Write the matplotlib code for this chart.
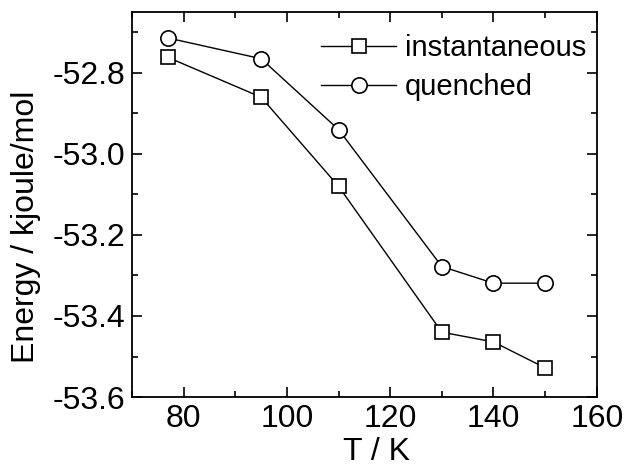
import matplotlib
matplotlib.use("Agg")
import matplotlib.pyplot as plt
from matplotlib.ticker import MultipleLocator

T = [77, 95, 110, 130, 140, 150]
instantaneous = [-52.762, -52.860, -53.080, -53.440, -53.464, -53.528]
quenched = [-52.714, -52.765, -52.940, -53.278, -53.319, -53.319]

plt.rcParams['font.family'] = ['Liberation Sans', 'DejaVu Sans']
FS = 23
plt.rcParams['font.size'] = FS

fig = plt.figure(figsize=(6.41, 4.66), dpi=100)
ax = fig.add_axes([0.206, 0.148, 0.725, 0.826])

ax.plot(T, instantaneous, color='black', lw=1.0, marker='s', ms=10,
        mfc='white', mec='black', mew=1.2, label='instantaneous')
ax.plot(T, quenched, color='black', lw=1.0, marker='o', ms=11,
        mfc='white', mec='black', mew=1.2, label='quenched')

ax.set_xlim(70, 160)
ax.set_ylim(-53.6, -52.65)
ax.xaxis.set_major_locator(MultipleLocator(20))
ax.xaxis.set_minor_locator(MultipleLocator(10))
ax.yaxis.set_major_locator(MultipleLocator(0.2))
ax.yaxis.set_minor_locator(MultipleLocator(0.1))
ax.yaxis.set_major_formatter(matplotlib.ticker.FormatStrFormatter('%.1f'))
ax.tick_params(which='both', direction='in', top=True, right=True, width=1.2)
ax.tick_params(which='major', length=7, labelsize=FS, pad=5)
ax.tick_params(which='minor', length=4)
for s in ax.spines.values():
    s.set_linewidth(1.3)

ax.set_xlabel('T / K', fontsize=FS)
ax.set_ylabel('Energy / kjoule/mol', fontsize=FS)
ax.xaxis.set_label_coords(0.527, -0.104)
ax.yaxis.set_label_coords(-0.195, 0.442)

ax.legend(loc='upper right', bbox_to_anchor=(1.003, 0.974), frameon=False,
          handlelength=2.6, handletextpad=0.3, labelspacing=0.4,
          fontsize=21, borderaxespad=0)

fig.savefig('out.png', dpi=100)
